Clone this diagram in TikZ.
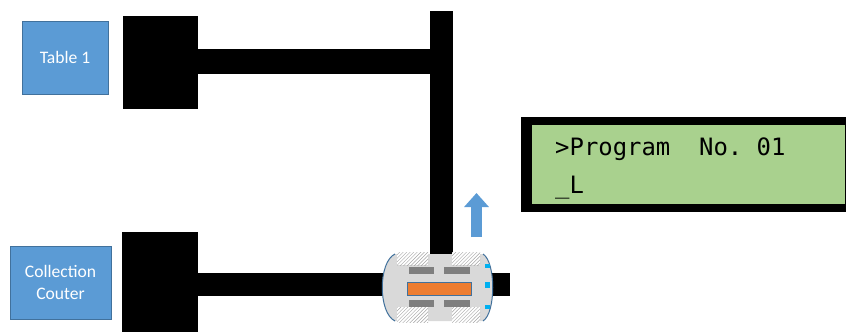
\documentclass[tikz,border=0pt]{standalone}
\usepackage{fontspec}
\setmainfont{Carlito}
\newfontfamily\lcdfont{DejaVu Sans Mono}
\usetikzlibrary{positioning,arrows.meta,patterns,calc}
\definecolor{boxblue}{HTML}{5B9BD5}
\definecolor{boxedge}{HTML}{41719C}
\definecolor{lcdgreen}{HTML}{A9D18E}
\definecolor{bodygray}{HTML}{D9D9D9}
\definecolor{padgray}{HTML}{7F7F7F}
\definecolor{hatchgray}{HTML}{A6A6A6}
\definecolor{motor}{HTML}{ED7D31}
\definecolor{sensor}{HTML}{00B0F0}
\tikzset{
  tablebox/.style={draw=boxedge,fill=boxblue,text=white,align=center,
    inner sep=0pt,line width=0.3pt,font=\fontsize{15}{18.7}\selectfont},
  dock/.style={fill=black,inner sep=0pt},
  track/.style={black,line width=6.9mm},
  trackwide/.style={black,line width=7.5mm},
  wheel/.style={fill=white,pattern=north east lines,pattern color=hatchgray},
  pad/.style={fill=padgray},
  heading/.style={boxblue,line width=3.3mm,-{Triangle[width=7.2mm,length=4.2mm]}},
  lcdtext/.style={inner sep=0pt,anchor=base west,
    font=\lcdfont\fontsize{20.4}{24}\selectfont},
}

\begin{document}
\begin{tikzpicture}[x=0.3mm,y=-0.3mm]
  \useasboundingbox (0,0) rectangle (846,332);

  % stations
  \node[tablebox,minimum width=25.8mm,minimum height=21.9mm] (table1) at (65,57.5) {Table 1};
  \node[tablebox,minimum width=30.3mm,minimum height=21.9mm] (counter) at (60.5,282.5) {Collection\\Couter};
  \node[dock,minimum width=22.5mm,minimum height=27.9mm] (dock1) at (160.5,62.5) {};
  \node[dock,minimum width=22.8mm,minimum height=30mm] (dock2) at (160,282) {};

  % tracks
  \coordinate (bend) at (453,61.5);
  \coordinate (spinetop) at (441.5,11);
  \coordinate (spinebot) at (441.5,258);
  \coordinate (stub) at (510,284.5);
  \draw[trackwide] (bend -| dock1.east) -- (bend);
  \draw[track] (spinetop) -- (spinebot);
  \draw[track] (stub -| dock2.east) -- (stub);

  % robot
  \coordinate (robot) at (437,287);
  \fill[bodygray] (395,254) -- (483,254) .. controls (496,262) and (496,313) .. (483,321)
    -- (395,321) .. controls (378,313) and (378,262) .. (395,254) -- cycle;
  \draw[boxedge,line width=0.3mm] (395,254) .. controls (378,262) and (378,313) .. (395,321);
  \draw[boxedge,line width=0.3mm] (483,254) .. controls (496,262) and (496,313) .. (483,321);
  \foreach \x/\w in {397/428,452/480} {
    \fill[white] (\x,252) rectangle (\w,265);
    \fill[wheel] (\x,252) rectangle (\w,265);
    \fill[white] (\x,307) rectangle (\w,322);
    \fill[wheel] (\x,307) rectangle (\w,322);
  }
  \foreach \x/\w in {409/434,444/470} {
    \fill[pad] (\x,267) rectangle (\w,274);
    \fill[pad] (\x,300) rectangle (\w,307);
  }
  \filldraw[fill=motor,draw=boxedge,line width=0.2mm] (407,282) rectangle (471,295);
  \foreach \y/\h in {264/268,282/288,305/309}
    \fill[sensor] (485,\y) rectangle (490,\h);

  \coordinate (arrowbase) at (476.5,237);
  \coordinate (arrowtip) at (476.5,193);
  \draw[heading] (arrowbase) -- (arrowtip);

  % display
  \node[dock,minimum width=97.5mm,minimum height=28.5mm] (lcd) at (683.5,164.5) {};
  \node[fill=lcdgreen,inner sep=0pt,minimum width=93.9mm,minimum height=23.7mm] (screen) at (688.5,164.5) {};
  \node[lcdtext] (row1) at (555,155) {>Program~~No.~01};
  \node[lcdtext] (row2) at ($(row1.base west)+(0,38)$) {\_L};
\end{tikzpicture}
\end{document}
